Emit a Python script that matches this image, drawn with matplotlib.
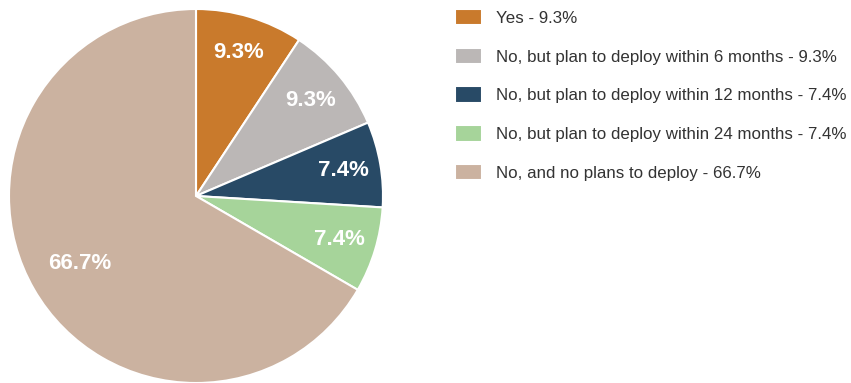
import matplotlib
matplotlib.use("Agg")
import matplotlib.pyplot as plt
from matplotlib import font_manager

categories = ["Yes", "No, but plan to deploy within 6 months",
              "No, but plan to deploy within 12 months",
              "No, but plan to deploy within 24 months",
              "No, and no plans to deploy"]
values = [9.3, 9.3, 7.4, 7.4, 66.7]
colors = ["#C97A2C", "#BBB7B6", "#284A66", "#A6D49A", "#CBB2A0"]

plt.rcParams['font.family'] = ['Liberation Sans', 'DejaVu Sans']

names = {f.name for f in font_manager.fontManager.ttflist}
narrow = "Liberation Sans Narrow" if "Liberation Sans Narrow" in names else "Liberation Sans"

fig = plt.figure(figsize=(8.51, 3.83), dpi=100)
ax = fig.add_axes([9/851, 9/383 - 9/383, 374/851, 374/383])

vals_iter = iter(values)
wedges, texts, autotexts = ax.pie(
    values, colors=colors, startangle=90, counterclock=False, radius=1,
    autopct=lambda p: f"{next(vals_iter)}%", pctdistance=0.8,
    wedgeprops=dict(edgecolor="white", linewidth=1.5),
    textprops=dict(color="white", fontsize=16, fontweight="bold",
                   family=[narrow, 'DejaVu Sans']))
x, y = autotexts[-1].get_position()
autotexts[-1].set_position((x * 0.9, y * 0.9))
ax.set_xlim(-1, 1)
ax.set_ylim(-1, 1)
ax.set_aspect("equal")

labels = [f"{c} - {v}%" for c, v in zip(categories, values)]
fig.legend(wedges, labels, loc="upper left",
           bbox_to_anchor=(455/851, 1 - 9/383), frameon=False,
           fontsize=12.2, handlelength=1.6, handleheight=1.12,
           handletextpad=0.84, labelspacing=1.28, borderpad=0,
           borderaxespad=0, labelcolor="#333333")

fig.savefig("out.png", dpi=100)
